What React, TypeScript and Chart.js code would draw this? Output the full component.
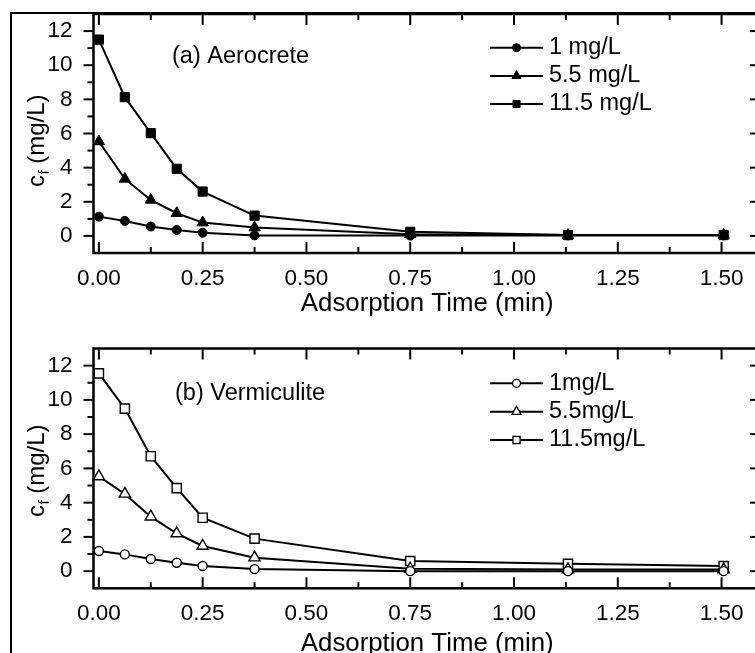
import React, { useEffect, useRef } from "react";
import { Chart, registerables } from "chart.js";

Chart.register(...registerables);

// ---------- data ----------
const TIME = [0, 0.0625, 0.125, 0.1875, 0.25, 0.375, 0.75, 1.13, 1.505];

const AERO_1 = [1.13, 0.88, 0.55, 0.35, 0.19, 0.03, 0.02, 0.03, 0.03];
const AERO_55 = [5.53, 3.34, 2.11, 1.33, 0.78, 0.49, 0.1, 0.05, 0.05];
const AERO_115 = [11.5, 8.13, 6.02, 3.93, 2.6, 1.19, 0.24, 0.05, 0.05];

const VERM_1 = [1.18, 0.98, 0.71, 0.49, 0.3, 0.12, 0.0, 0.0, 0.0];
const VERM_55 = [5.53, 4.51, 3.18, 2.2, 1.47, 0.79, 0.14, 0.1, 0.1];
const VERM_115 = [11.55, 9.49, 6.71, 4.85, 3.12, 1.9, 0.59, 0.43, 0.3];

const AERO_LABELS = ["1 mg/L", "5.5 mg/L", "11.5 mg/L"];
const VERM_LABELS = ["1mg/L", "5.5mg/L", "11.5mg/L"];
const POINT_STYLES = ["circle", "triangle", "rect"];

const X_MAJOR = [0, 0.25, 0.5, 0.75, 1.0, 1.25, 1.5];
const X_MINOR = [0.125, 0.375, 0.625, 0.875, 1.125, 1.375];
const Y_MAJOR = [0, 2, 4, 6, 8, 10, 12];
const Y_MINOR = [1, 3, 5, 7, 9, 11];
const X_MIN = -0.013;
const X_MAX = 1.595;
const Y_MIN = -1;
const Y_MAX = 13;

const X_TITLE = "Adsorption Time (min)";
const NOTE_A = "(a) Aerocrete";
const NOTE_B = "(b) Vermiculite";

const FONT = "'Liberation Sans', Arial, Helvetica, sans-serif";

type Panel = {
  top: number;
  height: number;
  padTop: number;
  xHeight: number;
  filled: boolean;
  series: number[][];
  labels: string[];
  note: string;
  noteX: number;
  noteY: number;
  legendY: number[];
  yTitleCenter: number;
};

const CANVAS_W = 770;

function drawMarker(ctx: CanvasRenderingContext2D, style: string, x: number, y: number, r: number, filled: boolean) {
  ctx.beginPath();
  if (style === "circle") {
    ctx.arc(x, y, r, 0, Math.PI * 2);
  } else if (style === "triangle") {
    ctx.moveTo(x, y - r);
    ctx.lineTo(x + r * 0.866, y + r * 0.5);
    ctx.lineTo(x - r * 0.866, y + r * 0.5);
    ctx.closePath();
  } else {
    const s = r * Math.SQRT1_2;
    ctx.rect(x - s, y - s, 2 * s, 2 * s);
  }
  ctx.fillStyle = filled ? "#000" : "#fff";
  ctx.fill();
  ctx.lineWidth = filled ? 1 : 1.3;
  ctx.strokeStyle = "#000";
  ctx.stroke();
}

function makePlugin(p: Panel) {
  return {
    id: "originFrame",
    afterDraw(chart: any) {
      const { ctx, chartArea: a, scales } = chart;
      const xs = scales.x;
      const ys = scales.y;
      ctx.save();
      ctx.strokeStyle = "#000";
      ctx.lineCap = "butt";
      const line = (x1: number, y1: number, x2: number, y2: number) => {
        ctx.beginPath();
        ctx.moveTo(x1, y1);
        ctx.lineTo(x2, y2);
        ctx.stroke();
      };
      ctx.lineWidth = 2;
      X_MAJOR.forEach((v) => {
        const x = xs.getPixelForValue(v);
        line(x, a.bottom, x, a.bottom - 11);
        line(x, a.top, x, a.top + 11);
      });
      X_MINOR.forEach((v) => {
        const x = xs.getPixelForValue(v);
        line(x, a.bottom, x, a.bottom - 6);
        line(x, a.top, x, a.top + 6);
      });
      Y_MAJOR.forEach((v) => {
        const y = ys.getPixelForValue(v);
        line(a.left, y, a.left - 10, y);
        line(a.right, y, a.right - 11, y);
      });
      Y_MINOR.forEach((v) => {
        const y = ys.getPixelForValue(v);
        line(a.left, y, a.left - 6, y);
        line(a.right, y, a.right - 6, y);
      });
      ctx.lineWidth = 2.5;
      ctx.strokeRect(a.left, a.top, a.right - a.left, a.bottom - a.top);

      // y title with subscript
      ctx.fillStyle = "#000";
      ctx.save();
      ctx.translate(43.5, p.yTitleCenter - p.top);
      ctx.rotate(-Math.PI / 2);
      ctx.textBaseline = "alphabetic";
      ctx.textAlign = "left";
      ctx.font = `24px ${FONT}`;
      const w1 = ctx.measureText("c").width;
      const w3 = ctx.measureText(" (mg/L)").width;
      ctx.font = `15px ${FONT}`;
      const w2 = ctx.measureText("f").width;
      const x0 = -(w1 + w2 + w3) / 2;
      ctx.font = `24px ${FONT}`;
      ctx.fillText("c", x0, 0);
      ctx.font = `15px ${FONT}`;
      ctx.fillText("f", x0 + w1 + 0.5, 5);
      ctx.font = `24px ${FONT}`;
      ctx.fillText(" (mg/L)", x0 + w1 + w2 + 0.5, 0);
      ctx.restore();

      // note
      ctx.font = `23.5px ${FONT}`;
      ctx.textBaseline = "middle";
      ctx.textAlign = "left";
      ctx.fillStyle = "#000";
      ctx.fillText(p.note, p.noteX, p.noteY - p.top);

      // legend
      p.labels.forEach((lab, i) => {
        const y = p.legendY[i] - p.top;
        ctx.strokeStyle = "#000";
        ctx.lineWidth = 2;
        line(490, y, 543, y);
        const st = POINT_STYLES[i];
        drawMarker(ctx, st, 516.5, y, st === "circle" ? 4 : st === "triangle" ? 5.3 : 5, p.filled);
        ctx.fillStyle = "#000";
        ctx.font = `23.5px ${FONT}`;
        ctx.textBaseline = "middle";
        ctx.fillText(lab, 549, y);
      });
      ctx.restore();
    },
  };
}

function zeroPad(s: any) {
  s.paddingTop = 0;
  s.paddingBottom = 0;
  s.paddingLeft = 0;
  s.paddingRight = 0;
}

function buildConfig(p: Panel): any {
  const datasets = p.series.map((vals, i) => {
    const st = POINT_STYLES[i];
    return {
      label: p.labels[i],
      data: TIME.map((t, j) => ({ x: t, y: vals[j] })),
      borderColor: "#000",
      borderWidth: 2,
      backgroundColor: p.filled ? "#000" : "#fff",
      pointStyle: st,
      pointRadius: st === "circle" ? 4.5 : 6.5,
      pointBorderWidth: p.filled ? 1 : 1.4,
      pointBorderColor: "#000",
      pointBackgroundColor: p.filled ? "#000" : "#fff",
      tension: 0,
      fill: false,
      clip: 8,
    };
  });
  return {
    type: "line",
    data: { datasets },
    options: {
      animation: false,
      responsive: false,
      maintainAspectRatio: false,
      events: [],
      layout: { padding: { top: p.padTop, left: 0, right: CANVAS_W - 761, bottom: 0 } },
      plugins: { legend: { display: false }, tooltip: { enabled: false } },
      scales: {
        x: {
          type: "linear",
          min: X_MIN,
          max: X_MAX,
          grid: { display: false, drawTicks: false },
          border: { display: false },
          afterBuildTicks: (s: any) => {
            s.ticks = X_MAJOR.map((v) => ({ value: v }));
          },
          afterFit: (s: any) => {
            s.height = p.xHeight;
            zeroPad(s);
          },
          ticks: {
            autoSkip: false,
            maxRotation: 0,
            padding: 12,
            color: "#000",
            font: { family: FONT, size: 22.5 },
            callback: (v: any) => Number(v).toFixed(2),
          },
          title: {
            display: true,
            text: X_TITLE,
            color: "#000",
            font: { family: FONT, size: 25.8 },
            padding: { top: 0, bottom: 11 },
          },
        },
        y: {
          type: "linear",
          min: Y_MIN,
          max: Y_MAX,
          grid: { display: false, drawTicks: false },
          border: { display: false },
          afterBuildTicks: (s: any) => {
            s.ticks = Y_MAJOR.map((v) => ({ value: v }));
          },
          afterFit: (s: any) => {
            s.width = 93.5;
            zeroPad(s);
          },
          ticks: {
            autoSkip: false,
            padding: 21,
            color: "#000",
            font: { family: FONT, size: 22.5 },
            callback: (v: any) => String(v),
          },
        },
      },
    },
    plugins: [makePlugin(p)],
  };
}

const TOP_PANEL: Panel = {
  top: 0,
  height: 330,
  padTop: 14,
  xHeight: 77,
  filled: true,
  series: [AERO_1, AERO_55, AERO_115],
  labels: AERO_LABELS,
  note: NOTE_A,
  noteX: 172,
  noteY: 57,
  legendY: [47.7, 75.9, 104],
  yTitleCenter: 141,
};

const BOTTOM_PANEL: Panel = {
  top: 334,
  height: 336,
  padTop: 14.5,
  xHeight: 81.7,
  filled: false,
  series: [VERM_1, VERM_55, VERM_115],
  labels: VERM_LABELS,
  note: NOTE_B,
  noteX: 175,
  noteY: 394,
  legendY: [383.3, 411.7, 440],
  yTitleCenter: 471,
};

function PanelChart({ p }: { p: Panel }) {
  const ref = useRef<HTMLCanvasElement | null>(null);
  useEffect(() => {
    if (!ref.current) return;
    const chart = new Chart(ref.current, buildConfig(p));
    return () => chart.destroy();
  }, [p]);
  return (
    <canvas
      ref={ref}
      width={CANVAS_W}
      height={p.height}
      style={{ position: "absolute", left: 0, top: p.top, width: CANVAS_W, height: p.height, display: "block" }}
    />
  );
}

export default function App() {
  return (
    <div
      style={{
        position: "absolute",
        left: 0,
        top: 0,
        width: 755,
        height: 653,
        overflow: "hidden",
        background: "#fff",
      }}
    >
      <div
        style={{
          position: "absolute",
          left: 10,
          top: 12,
          width: 800,
          height: 700,
          borderLeft: "2.5px solid #000",
          borderTop: "2.5px solid #000",
        }}
      />
      <PanelChart p={TOP_PANEL} />
      <PanelChart p={BOTTOM_PANEL} />
    </div>
  );
}
